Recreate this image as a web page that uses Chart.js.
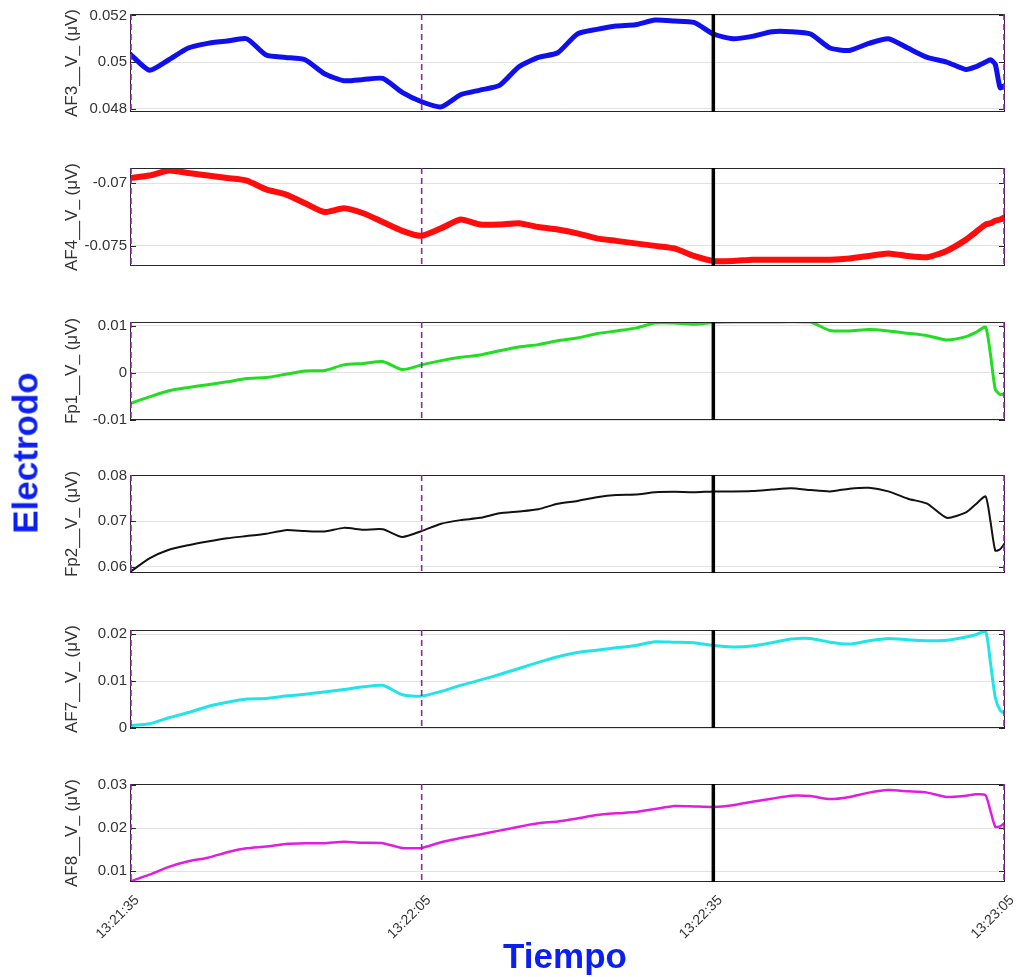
<!DOCTYPE html>
<html>
<head>
<meta charset="utf-8">
<script src="https://cdn.jsdelivr.net/npm/chart.js@4.4.1/dist/chart.umd.min.js"></script>
<style>
  html, body { margin: 0; padding: 0; background: #ffffff; }
  body { position: relative; width: 1018px; height: 977px; overflow: hidden;
         font-family: "Liberation Sans", Arial, sans-serif; }
  .panel { position: absolute; left: 0; width: 1018px; }
  .panel canvas { display: block; }
  .axis-name { position: absolute; color: #0b1ff0; font-weight: bold; font-size: 35px;
               line-height: 1; white-space: nowrap; z-index: 5;
               font-family: "Liberation Sans", Arial, sans-serif; }
</style>
</head>
<body>
<div id="panels"></div>
<div class="axis-name" style="left:25px; top:453px; transform: translate(-50%,-50%) rotate(-90deg);">Electrodo</div>
<div class="axis-name" style="left:565px; top:955px; transform: translate(-50%,-50%);">Tiempo</div>

<script>
// Time axis: seconds after 13:21:35
const seconds = [0,2,4,6,8,10,12,14,16,18,20,22,24,26,28,30,32,34,36,38,
                 40,42,44,46,48,50,52,54,56,58,60,62,64,66,68,70,72,74,76,78,
                 80,82,84,86,87,88,88.5,89,89.5,90];
const tickSeconds = [0, 30, 60, 90];
const timeLabels = ['13:21:35', '13:22:05', '13:22:35', '13:23:05'];

// Event markers (seconds)
const dashedMarkers = [0, 30, 90];
const solidMarkers = [60];

// Channel voltages
const af3 = [0.05035,0.04965,0.0501,0.0506,0.0508,0.0509,0.0510,0.0503,0.0502,0.0501,
             0.0495,0.0492,0.04925,0.0493,0.0487,0.0483,0.04808,0.0486,0.0488,0.0490,
             0.0498,0.0502,0.0504,0.0512,0.0514,0.05155,0.0516,0.0518,0.05176,0.0517,
             0.0512,0.0510,0.0511,0.0513,0.0513,0.0512,0.0506,0.0505,0.0508,0.0510,
             0.0506,0.0502,0.0500,0.04968,0.0498,0.0500,0.0501,0.0499,0.0489,0.0490];
const af4 = [-0.0696,-0.0694,-0.0690,-0.0692,-0.0694,-0.0696,-0.0698,-0.0705,-0.0709,-0.0716,
             -0.0723,-0.0720,-0.0724,-0.0731,-0.0738,-0.0742,-0.0736,-0.0729,-0.0733,-0.0733,
             -0.0732,-0.0735,-0.0737,-0.0740,-0.0744,-0.0746,-0.0748,-0.0750,-0.0752,-0.0758,
             -0.0762,-0.0762,-0.0761,-0.0761,-0.0761,-0.0761,-0.0761,-0.0760,-0.0758,-0.0756,
             -0.0758,-0.0759,-0.0754,-0.0745,-0.0739,-0.0733,-0.0732,-0.0730,-0.0729,-0.0727];
const fp1 = [-0.0065,-0.0051,-0.0038,-0.0031,-0.0025,-0.0019,-0.0012,-0.0010,-0.0003,0.0004,
             0.0005,0.0017,0.0020,0.0024,0.0007,0.0017,0.0026,0.0033,0.0038,0.0047,
             0.0055,0.0060,0.0068,0.0074,0.0083,0.0089,0.0095,0.0106,0.0106,0.0103,
             0.0107,0.0108,0.0108,0.0108,0.0109,0.0108,0.0090,0.0089,0.0092,0.0089,
             0.0084,0.0079,0.0070,0.0077,0.0086,0.0097,0.0040,-0.0035,-0.0046,-0.0044];
const fp2 = [0.0588,0.0618,0.0637,0.0647,0.0655,0.0662,0.0667,0.0672,0.0680,0.0678,
             0.0677,0.0685,0.0681,0.0682,0.0665,0.0678,0.0694,0.0702,0.0707,0.0717,
             0.0721,0.0726,0.0738,0.0744,0.0752,0.0757,0.0758,0.0763,0.0764,0.0763,
             0.0765,0.0765,0.0766,0.0769,0.0772,0.0768,0.0765,0.0771,0.0773,0.0765,
             0.0749,0.0738,0.0707,0.0719,0.0737,0.0754,0.0700,0.0635,0.0638,0.0652];
const af7 = [0.0005,0.0009,0.0022,0.0033,0.0046,0.0055,0.0062,0.0063,0.0068,0.0072,
             0.0077,0.0082,0.0088,0.0091,0.0071,0.0068,0.0078,0.0091,0.0102,0.0114,
             0.0127,0.0140,0.0152,0.0161,0.0166,0.0171,0.0176,0.0184,0.0183,0.0182,
             0.0176,0.0173,0.0175,0.0182,0.0190,0.0191,0.0183,0.0179,0.0186,0.0191,
             0.0188,0.0186,0.0187,0.0194,0.0199,0.0206,0.0140,0.0065,0.0038,0.0030];
const af8 = [0.0076,0.0092,0.0110,0.0123,0.0131,0.0144,0.0153,0.0157,0.0163,0.0165,
             0.0165,0.0168,0.0166,0.0165,0.0154,0.0154,0.0167,0.0177,0.0185,0.0194,
             0.0203,0.0211,0.0215,0.0222,0.0230,0.0234,0.0237,0.0244,0.0251,0.0250,
             0.0249,0.0253,0.0261,0.0268,0.0275,0.0274,0.0267,0.0272,0.0282,0.0288,
             0.0285,0.0282,0.0272,0.0275,0.0278,0.0276,0.0240,0.0203,0.0204,0.0213];

// Y tick values per channel
const af3Ticks = [0.048, 0.05, 0.052];
const af4Ticks = [-0.075, -0.07];
const fp1Ticks = [-0.01, 0, 0.01];
const fp2Ticks = [0.06, 0.07, 0.08];
const af7Ticks = [0, 0.01, 0.02];
const af8Ticks = [0.01, 0.02, 0.03];

const channels = [
  { label: 'AF3__V_ (\u03bcV)', values: af3, ticks: af3Ticks, min: 0.04786, max: 0.05206, color: '#1010ee', width: 5 },
  { label: 'AF4__V_ (\u03bcV)', values: af4, ticks: af4Ticks, min: -0.0766, max: -0.0688, color: '#ff0d0d', width: 6 },
  { label: 'Fp1__V_ (\u03bcV)', values: fp1, ticks: fp1Ticks, min: -0.0100, max: 0.0108, color: '#22dd22', width: 3 },
  { label: 'Fp2__V_ (\u03bcV)', values: fp2, ticks: fp2Ticks, min: 0.0586, max: 0.0801, color: '#111111', width: 2 },
  { label: 'AF7__V_ (\u03bcV)', values: af7, ticks: af7Ticks, min: 0.0, max: 0.0209, color: '#22e3ea', width: 3 },
  { label: 'AF8__V_ (\u03bcV)', values: af8, ticks: af8Ticks, min: 0.0075, max: 0.0302, color: '#e01ee0', width: 2.5 }
];

// Layout of the stacked panels
const panelTops = [14, 168, 322, 475, 630, 784];
const PLOT_H = 98;
const PAD = 12;
const X_AXIS_H = 62;

// Axes box, inward ticks and event markers
const framePlugin = {
  id: 'frame',
  afterDatasetsDraw(chart) {
    const { ctx, chartArea: a, scales: { x, y } } = chart;
    ctx.save();
    ctx.setLineDash([]);
    ctx.strokeStyle = '#262626';
    ctx.lineWidth = 1;
    ctx.strokeRect(a.left + 0.5, a.top + 0.5, a.width - 1, a.height - 1);
    y.ticks.forEach(tk => {
      const py = Math.round(y.getPixelForValue(tk.value)) + 0.5;
      ctx.beginPath();
      ctx.moveTo(a.left, py); ctx.lineTo(a.left + 6, py);
      ctx.moveTo(a.right - 6, py); ctx.lineTo(a.right, py);
      ctx.stroke();
    });
    solidMarkers.forEach(t => {
      const px = x.getPixelForValue(t);
      ctx.strokeStyle = '#000000';
      ctx.lineWidth = 3.5;
      ctx.beginPath(); ctx.moveTo(px, a.top); ctx.lineTo(px, a.bottom); ctx.stroke();
    });
    dashedMarkers.forEach(t => {
      const px = Math.min(Math.max(x.getPixelForValue(t), a.left + 1), a.right - 1);
      ctx.strokeStyle = '#8a2a9e';
      ctx.lineWidth = 1.6;
      ctx.setLineDash([6, 4]);
      ctx.beginPath(); ctx.moveTo(px, a.top); ctx.lineTo(px, a.bottom); ctx.stroke();
    });
    ctx.restore();
  }
};

const host = document.getElementById('panels');
channels.forEach((ch, i) => {
  const last = i === channels.length - 1;
  const h = PLOT_H + PAD + (last ? X_AXIS_H : PAD);
  const div = document.createElement('div');
  div.className = 'panel';
  div.style.top = (panelTops[i] - PAD) + 'px';
  div.style.height = h + 'px';
  const cv = document.createElement('canvas');
  cv.width = 1018; cv.height = h;
  cv.style.width = '1018px'; cv.style.height = h + 'px';
  div.appendChild(cv);
  host.appendChild(div);

  new Chart(cv, {
    type: 'line',
    data: {
      datasets: [{
        data: seconds.map((t, k) => ({ x: t, y: ch.values[k] })),
        borderColor: ch.color,
        borderWidth: ch.width,
        borderJoinStyle: 'round',
        borderCapStyle: 'round',
        pointRadius: 0,
        tension: 0.2,
        fill: false
      }]
    },
    options: {
      responsive: false,
      animation: false,
      events: [],
      layout: { padding: { left: 62, right: 13, top: PAD, bottom: last ? 0 : PAD } },
      plugins: { legend: { display: false }, tooltip: { enabled: false } },
      scales: {
        x: {
          type: 'linear', min: 0, max: 90,
          display: last,
          grid: { display: false },
          border: { display: false },
          afterBuildTicks: s => { s.ticks = tickSeconds.map(v => ({ value: v })); },
          afterFit: s => {
            s.height = last ? X_AXIS_H : 0;
            s.paddingLeft = 0;
            s.paddingRight = 0;
          },
          ticks: {
            autoSkip: false, minRotation: 45, maxRotation: 45, padding: 2,
            labelOffset: 7,
            color: '#333333',
            font: { family: '"Liberation Sans", Arial, sans-serif', size: 14 },
            callback: v => timeLabels[tickSeconds.indexOf(v)]
          }
        },
        y: {
          min: ch.min, max: ch.max,
          afterBuildTicks: s => { s.ticks = ch.ticks.map(v => ({ value: v })); },
          afterFit: s => { s.width = 68; },
          grid: { color: '#e2e2e2', lineWidth: 1, drawTicks: false },
          border: { display: false },
          ticks: {
            padding: 3, color: '#333333',
            font: { family: '"Liberation Sans", Arial, sans-serif', size: 15 },
            callback: v => String(v)
          },
          title: {
            display: true, text: ch.label, color: '#333333', padding: 0,
            font: { family: '"Liberation Sans", Arial, sans-serif', size: 17 }
          }
        }
      }
    },
    plugins: [framePlugin]
  });
});
</script>
</body>
</html>
